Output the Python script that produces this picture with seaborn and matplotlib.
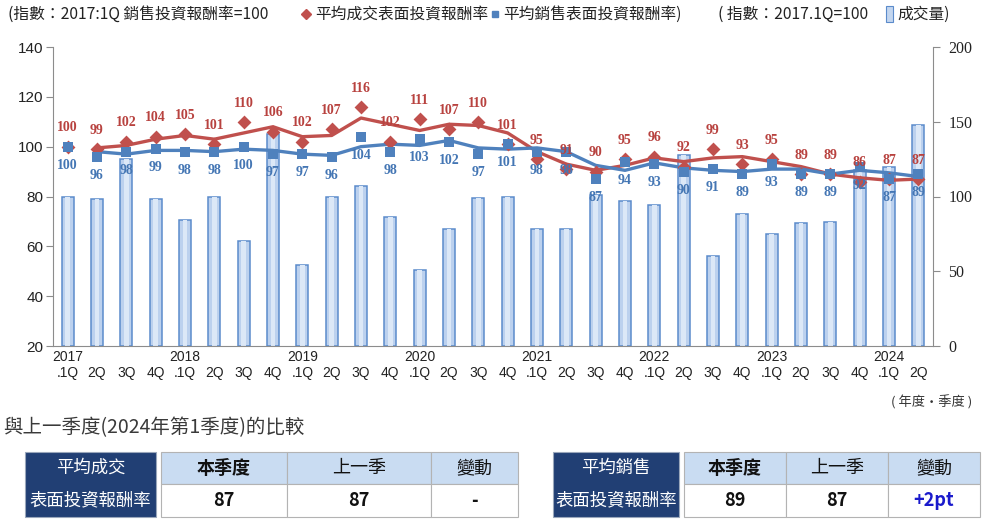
import numpy as np
import pandas as pd
import matplotlib.pyplot as plt
import seaborn as sns
from matplotlib.patches import Rectangle

sns.set_style('white')
plt.rcParams['font.family'] = ['Noto Sans CJK TC', 'DejaVu Sans']

#%% Dati

quarters = ['2017.1Q', '2017.2Q', '2017.3Q', '2017.4Q',
            '2018.1Q', '2018.2Q', '2018.3Q', '2018.4Q',
            '2019.1Q', '2019.2Q', '2019.3Q', '2019.4Q',
            '2020.1Q', '2020.2Q', '2020.3Q', '2020.4Q',
            '2021.1Q', '2021.2Q', '2021.3Q', '2021.4Q',
            '2022.1Q', '2022.2Q', '2022.3Q', '2022.4Q',
            '2023.1Q', '2023.2Q', '2023.3Q', '2023.4Q',
            '2024.1Q', '2024.2Q']

tick_labels = ['2017\n.1Q', '\n2Q', '\n3Q', '\n4Q',
               '2018\n.1Q', '\n2Q', '\n3Q', '\n4Q',
               '2019\n.1Q', '\n2Q', '\n3Q', '\n4Q',
               '2020\n.1Q', '\n2Q', '\n3Q', '\n4Q',
               '2021\n.1Q', '\n2Q', '\n3Q', '\n4Q',
               '2022\n.1Q', '\n2Q', '\n3Q', '\n4Q',
               '2023\n.1Q', '\n2Q', '\n3Q', '\n4Q',
               '2024\n.1Q', '\n2Q']

# 平均成交表面投資報酬率
deal_yield = [100, 99, 102, 104, 105, 101, 110, 106, 102, 107, 116, 102,
              111, 107, 110, 101, 95, 91, 90, 95, 96, 92, 99, 93,
              95, 89, 89, 86, 87, 87]
# 平均銷售表面投資報酬率
sale_yield = [100, 96, 98, 99, 98, 98, 100, 97, 97, 96, 104, 98,
              103, 102, 97, 101, 98, 98, 87, 94, 93, 90, 91, 89,
              93, 89, 89, 92, 87, 89]

# linee di tendenza (media mobile a 2 periodi)
deal_trend = [np.nan, 99.5, 100.5, 103, 104.5, 103, 105.5, 108, 104, 104.5,
              111.5, 109, 106.5, 109, 108.5, 105.5, 98, 93, 90.5, 92.5,
              95.5, 94, 95.5, 96, 94, 92, 89, 87.5, 86.5, 87]
sale_trend = [np.nan, 98, 97, 98.5, 98.5, 98, 99, 98.5, 97, 96.5,
              100, 101, 100.5, 102.5, 99.5, 99, 99.5, 98, 92.5, 90.5,
              93.5, 91.5, 90.5, 90, 91, 91, 89, 90.5, 89.5, 88]

# 成交量 (指數)
volume = [100, 98, 125, 98.5, 84, 100, 70, 142, 54, 100, 107, 86.5,
          51, 78.5, 99, 100, 78, 78, 101, 97, 94.5, 127.5, 60, 88.5,
          75, 82, 83, 118, 120, 148]

red = '#c0504d'
blue = '#4f81bd'
navy = '#213f74'

idx = np.arange(len(quarters))

#%% Grafico

fig = plt.figure(figsize=(9.83, 5.29), dpi=100)
W, H = 983, 529
ax = fig.add_axes([53 / W, 1 - 346 / H, 880 / W, 299 / H])

# barre: bordo blu + interno più chiaro (effetto sfumato)
sns.barplot(x=quarters, y=volume, ax=ax, color='#bcd1ee', saturation=1,
            width=0.42, edgecolor='#5b8bcb', linewidth=1.1)
sns.barplot(x=quarters, y=volume, ax=ax, color='#dce8f7', saturation=1,
            width=0.16, linewidth=0)

ax2 = ax.twinx()
ax.yaxis.tick_right()
ax2.yaxis.tick_left()

sns.lineplot(x=idx, y=deal_trend, ax=ax2, color=red, linewidth=2.4, sort=False)
sns.lineplot(x=idx, y=sale_trend, ax=ax2, color=blue, linewidth=2.4, sort=False)
sns.scatterplot(x=idx, y=deal_yield, ax=ax2, marker='D', s=50, color=red,
                linewidth=0, zorder=4)
sns.scatterplot(x=idx, y=sale_yield, ax=ax2, marker='s', s=58, color=blue,
                linewidth=0, zorder=5)

for i, v in enumerate(deal_yield):
    ax2.annotate(str(v), (i, v), xytext=(0, 13.5), textcoords='offset points',
                 ha='center', va='center', fontsize=10, fontweight='bold',
                 family='Liberation Serif', color='#b8423f', zorder=6)
for i, v in enumerate(sale_yield):
    ax2.annotate(str(v), (i, v), xytext=(0, -13.5), textcoords='offset points',
                 ha='center', va='center', fontsize=10, fontweight='bold',
                 family='Liberation Serif', color='#4476b4', zorder=6)

ax.set_ylim(0, 200)
ax.set_yticks([0, 50, 100, 150, 200])
ax2.set_ylim(20, 140)
ax2.set_yticks([20, 40, 60, 80, 100, 120, 140])
ax.set_xlim(-0.5, 29.5)
ax2.set_xlim(-0.5, 29.5)

ax.set_xticks(idx)
ax.set_xticklabels(tick_labels)
ax.set_xticks(np.arange(-0.5, 30, 1), minor=True)
ax.tick_params(axis='x', which='major', length=0, pad=3, labelsize=10,
               labelcolor='#222222')
ax.tick_params(axis='x', which='minor', length=6, direction='inout',
               color='#8c8c8c', width=1)
ax.tick_params(axis='y', length=5, direction='out', color='#8c8c8c',
               labelsize=11.5, labelcolor='#222222', pad=6)
ax2.tick_params(axis='y', length=5, direction='out', color='#8c8c8c',
                labelsize=11, labelcolor='#222222', pad=2)
for lbl in ax.get_xticklabels():
    lbl.set_family('Liberation Sans')
for lbl in ax.get_yticklabels():
    lbl.set_family('Liberation Serif')
for lbl in ax2.get_yticklabels():
    lbl.set_family('Liberation Sans')

ax.set_xlabel('')
ax.set_ylabel('')
ax2.set_xlabel('')
ax2.set_ylabel('')

for s in ['top', 'left']:
    ax.spines[s].set_visible(False)
for s in ['top', 'right', 'bottom']:
    ax2.spines[s].set_visible(False)
ax.spines['right'].set_color('#8c8c8c')
ax.spines['bottom'].set_color('#8c8c8c')
ax2.spines['left'].set_color('#8c8c8c')
ax.grid(False)
ax2.grid(False)

#%% Legenda, titolo e tabelle (coordinate in pixel)

ov = fig.add_axes([0, 0, 1, 1], zorder=10)
ov.set_xlim(0, W)
ov.set_ylim(H, 0)
ov.axis('off')
ov.patch.set_alpha(0)

ly = 14
fs_leg = 11.3
ov.text(8, ly, '(指數：2017:1Q 銷售投資報酬率=100', fontsize=fs_leg, va='center',
        ha='left', color='#222222')
ov.plot([306], [ly], marker='D', ms=5, color=red, mec=red)
ov.text(315, ly, '平均成交表面投資報酬率', fontsize=fs_leg, va='center',
        ha='left', color='#222222')
ov.plot([495], [ly], marker='s', ms=5, color=blue, mec=blue)
ov.text(503, ly, '平均銷售表面投資報酬率)', fontsize=fs_leg, va='center',
        ha='left', color='#222222')
ov.text(718, ly, '( 指數：2017.1Q=100', fontsize=fs_leg, va='center',
        ha='left', color='#222222')
ov.add_patch(Rectangle((886, 6), 7, 16, facecolor='#c3d6ef',
                       edgecolor='#5b8bcb', linewidth=0.8))
ov.text(897, ly, '成交量)', fontsize=fs_leg, va='center', ha='left',
        color='#222222')

ov.text(972, 402, '( 年度·季度 )', fontsize=9.5, va='center', ha='right',
        color='#333333')
ov.text(3, 428, '與上一季度(2024年第1季度)的比較', fontsize=14,
        va='center', ha='left', color='#3a3a3a')

tab_top, tab_mid, tab_bot = 452, 484, 517
header = ['本季度', '上一季', '變動']


def draw_table(dark_x, cols, name1, vals, val_colors):
    ov.add_patch(Rectangle((dark_x[0], tab_top), dark_x[1] - dark_x[0],
                           tab_bot - tab_top, facecolor=navy,
                           edgecolor='#9aa7bb', linewidth=0.8))
    cx = (dark_x[0] + dark_x[1]) / 2
    ov.text(cx, (tab_top + tab_mid) / 2, name1, color='white', fontsize=12.5,
            ha='center', va='center')
    ov.text(cx, (tab_mid + tab_bot) / 2, '表面投資報酬率', color='white',
            fontsize=12.5, ha='center', va='center')
    for j in range(3):
        x0, x1 = cols[j], cols[j + 1]
        ov.add_patch(Rectangle((x0, tab_top), x1 - x0, tab_mid - tab_top,
                               facecolor='#c9dcf2', edgecolor='#b3b3b3',
                               linewidth=0.8))
        ov.add_patch(Rectangle((x0, tab_mid), x1 - x0, tab_bot - tab_mid,
                               facecolor='white', edgecolor='#b3b3b3',
                               linewidth=0.8))
        ov.text((x0 + x1) / 2, (tab_top + tab_mid) / 2, header[j],
                fontsize=13, ha='center', va='center', color='#111111',
                fontweight='bold' if j == 0 else 'normal')
        ov.text((x0 + x1) / 2, (tab_mid + tab_bot) / 2, vals[j],
                fontsize=13, ha='center', va='center', color=val_colors[j],
                fontweight='bold')


draw_table((25, 156), [161, 287, 431, 518], '平均成交',
           ['87', '87', '-'], ['#111111', '#111111', '#111111'])
draw_table((553, 679), [684, 786, 888, 980], '平均銷售',
           ['89', '87', '+2pt'], ['#111111', '#111111', '#1a1acc'])

fig.savefig('out.png', dpi=100)
